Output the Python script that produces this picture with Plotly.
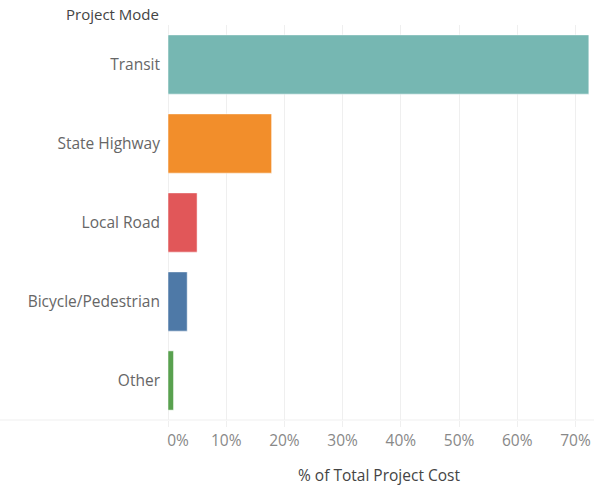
import plotly.graph_objects as go

categories = ["Transit", "State Highway", "Local Road", "Bicycle/Pedestrian", "Other"]
values = [72.3, 17.8, 5.0, 3.3, 0.95]
colors = ["#76B7B2", "#F28E2B", "#E15759", "#4E79A7", "#59A14F"]
tick_vals = [0, 10, 20, 30, 40, 50, 60, 70]
tick_text = ["\u00a0\u00a0\u00a0\u00a0\u00a00%", "10%", "20%", "30%", "40%", "50%", "60%", "70%"]

FONT = "'Open Sans', sans-serif"

fig = go.Figure(go.Bar(
    x=values, y=categories, orientation="h",
    marker=dict(color=colors, line=dict(color="rgba(255,255,255,0.5)", width=1)),
    hoverinfo="x+y",
))

fig.update_layout(
    width=594, height=486,
    margin=dict(l=168, r=4, t=25, b=66, autoexpand=False),
    plot_bgcolor="white", paper_bgcolor="white",
    bargap=0.25,
    showlegend=False,
    font=dict(family=FONT, size=15, color="#555"),
)
fig.update_xaxes(
    range=[0, 72.5], tickvals=tick_vals, ticktext=tick_text,
    automargin=False,
    showgrid=True, gridcolor="#EFEFEF", gridwidth=1,
    zeroline=True, zerolinecolor="#EFEFEF", zerolinewidth=1,
    showline=False,
    ticks="outside", ticklen=6, tickcolor="#EFEFEF",
    tickfont=dict(family=FONT, size=15.5, color="#888"),
    title=dict(text="% of Total Project Cost", font=dict(family=FONT, size=15.5, color="#444"), standoff=20),
    fixedrange=True,
)
fig.update_yaxes(
    categoryorder="array", categoryarray=categories[::-1],
    automargin=False,
    showgrid=False, zeroline=False, showline=False,
    ticks="", ticklabelstandoff=7,
    tickfont=dict(family=FONT, size=15.5, color="#666"),
    fixedrange=True,
)
fig.add_shape(type="line", xref="paper", yref="paper", x0=-0.4, x1=1.01, y0=0, y1=0,
              line=dict(color="#EFEFEF", width=1))
fig.add_annotation(text="Project Mode", xref="paper", yref="paper", x=0, y=1,
                   xanchor="right", yanchor="bottom", xshift=-7, yshift=-1, showarrow=False,
                   font=dict(family=FONT, size=15, color="#444"))

fig.write_html("out.html", config={"displayModeBar": False},
               post_script="document.body.style.margin='0';document.body.style.overflow='hidden';")
